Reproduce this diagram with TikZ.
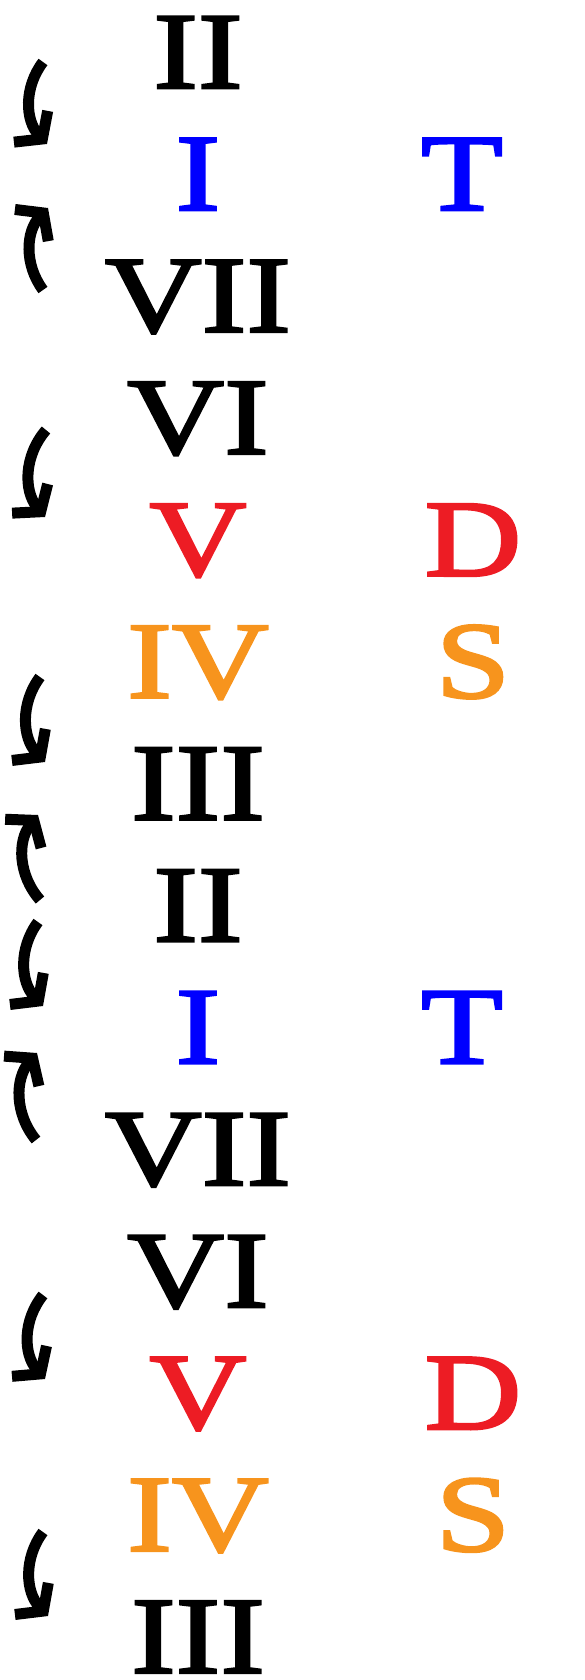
\documentclass[tikz,border=0pt]{standalone}
\usepackage{fontspec}
\usepackage{xcolor}
\usepackage{tikz}
\usetikzlibrary{positioning,arrows.meta}
\newfontfamily\degfont{Liberation Serif}[FakeStretch=1.23,FakeBold=2.5]
\definecolor{tonblue}{HTML}{0000FF}
\definecolor{domred}{HTML}{ED1C24}
\definecolor{subor}{HTML}{F7941D}

\begin{document}
\begin{tikzpicture}[x=1pt,y=-1pt,
  deg/.style={anchor=base,inner sep=0pt,font=\degfont\fontsize{109}{120}\selectfont},
  turn/.style={line width=11pt,-{Straight Barb[length=17pt,width=46pt]}}
]
\useasboundingbox (0,0) rectangle (584,1680);

% scale degrees, one per row
\foreach \n/\t/\c [count=\k] in {ii1/II/black,i1/I/tonblue,vii1/VII/black,vi1/VI/black,v1/V/domred,iv1/IV/subor,iii1/III/black,
  ii2/II/black,i2/I/tonblue,vii2/VII/black,vi2/VI/black,v2/V/domred,iv2/IV/subor,iii2/III/black}
  \node[deg,text=\c] (\n) at (198,{88+121.9*(\k-1)}) {\t};

% functions
\node[deg,text=tonblue] (t1) at ([xshift=264pt]i1.base) {T};
\node[deg,text=domred] (d1) at ([xshift=275pt]v1.base) {D};
\node[deg,text=subor] (s1) at ([xshift=275pt]iv1.base) {S};
\node[deg,text=tonblue] (t2) at ([xshift=264pt]i2.base) {T};
\node[deg,text=domred] (d2) at ([xshift=275pt]v2.base) {D};
\node[deg,text=subor] (s2) at ([xshift=275pt]iv2.base) {S};

% turning arrows on the left
\foreach \xa/\ya/\xb/\yb [count=\k] in {43/62/47/144,46/430/45/517,40/677/45/762,38/922/43/1006,43/1295/45/1379,43/1532/48/1616}{
  \coordinate (dn\k-a) at (\xa,\ya);
  \coordinate (dn\k-b) at (\xb,\yb);
  \draw[turn] (dn\k-a) to[bend right=40] (dn\k-b);
}
\foreach \xa/\ya/\xb/\yb [count=\k] in {43/290/48/208,40/900/38/815,36/1140/37/1053}{
  \coordinate (up\k-a) at (\xa,\ya);
  \coordinate (up\k-b) at (\xb,\yb);
  \draw[turn] (up\k-a) to[bend left=40] (up\k-b);
}
\end{tikzpicture}
\end{document}
